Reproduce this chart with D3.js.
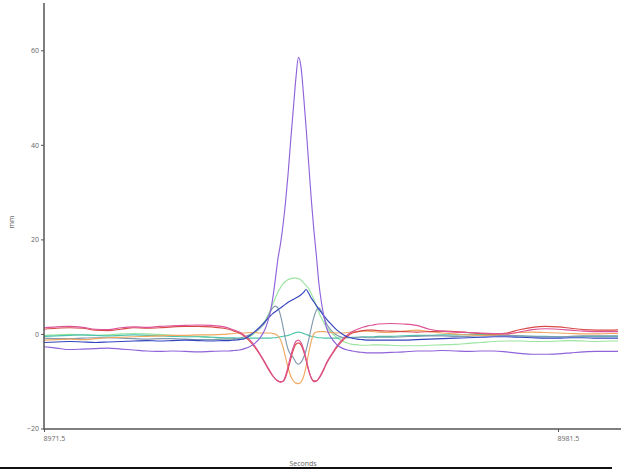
<!DOCTYPE html>
<html>
<head>
<meta charset="utf-8">
<script src="https://cdn.jsdelivr.net/npm/d3@7"></script>
<style>
  html, body { margin: 0; padding: 0; background: #fff; }
  svg { display: block; }
  .tick text { font-family: "Open Sans", "DejaVu Sans", sans-serif; font-size: 7px; fill: #666; }
</style>
</head>
<body>
<svg id="chart" width="621" height="470"></svg>
<script>
// ---- data ----
const time = [
  8971.5, 8971.75, 8972.0, 8972.25, 8972.5, 8972.75, 8973.0, 8973.25, 8973.5, 8973.75, 8974.0, 8974.25, 8974.5, 8974.75, 8975.0,
  8975.1, 8975.2, 8975.3, 8975.4, 8975.5, 8975.6, 8975.7, 8975.8,
  8975.85, 8975.9, 8975.95, 8976.0, 8976.05, 8976.1, 8976.15, 8976.2, 8976.25, 8976.3, 8976.35, 8976.4, 8976.45, 8976.5,
  8976.55, 8976.6, 8976.65, 8976.7, 8976.75, 8976.8, 8976.85, 8976.9, 8976.95, 8977.0,
  8977.1, 8977.2, 8977.3, 8977.4, 8977.5, 8977.6, 8977.7, 8977.8, 8977.9, 8978.0,
  8978.25, 8978.5, 8978.75, 8979.0, 8979.25, 8979.5, 8979.75, 8980.0, 8980.25, 8980.5, 8980.75, 8981.0, 8981.25, 8981.5,
  8981.75, 8982.0, 8982.25, 8982.5, 8982.75
];

const violet = [
  -2.7, -3.0, -3.3, -3.2, -3.1, -3.0, -3.2, -3.4, -3.6, -3.7, -3.6, -3.7, -3.8, -3.7, -3.6,
  -3.6, -3.5, -3.4, -3.1, -2.7, -2.0, -0.9, 1.0,
  2.5, 4.5, 7.5, 11.5, 15.8, 19.0, 23.0, 28.0, 34.0, 41.0, 47.5, 54.0, 58.5, 56.5,
  50.5, 43.5, 36.0, 28.5, 22.0, 16.5, 10.5, 6.5, 3.5, 1.2,
  -1.0, -2.3, -3.0, -3.4, -3.6, -3.8, -3.9, -4.0, -4.0, -4.0,
  -3.9, -3.8, -3.6, -3.6, -3.5, -3.6, -3.7, -3.6, -3.6, -3.8, -4.1, -4.3, -4.3, -4.2,
  -4.0, -3.8, -3.7, -3.7, -3.7
];

const magenta = [
  1.3, 1.5, 1.6, 1.4, 1.0, 0.9, 1.3, 1.5, 1.4, 1.6, 1.7, 1.8, 1.9, 1.8, 1.5,
  1.2, 0.8, 0.4, -0.3, -1.2, -2.5, -4.2, -6.0,
  -7.0, -7.9, -8.8, -9.5, -10.0, -10.2, -10.0, -8.8, -6.8, -4.6, -2.8, -1.6, -1.3, -1.8,
  -3.2, -5.3, -7.6, -9.3, -10.1, -10.0, -9.3, -8.3, -7.2, -6.0,
  -4.2, -2.5, -1.2, -0.2, 0.5, 1.0, 1.4, 1.7, 1.9, 2.1,
  2.2, 2.1, 1.8, 1.0, 0.6, 0.4, 0.3, 0.2, 0.1, 0.0, 0.4, 0.9, 1.1, 1.0,
  0.8, 0.6, 0.5, 0.5, 0.5
];

const red = [
  1.0, 1.2, 1.3, 1.2, 0.8, 0.7, 1.0, 1.3, 1.2, 1.3, 1.5, 1.6, 1.6, 1.5, 1.2,
  1.0, 0.6, 0.2, -0.5, -1.5, -2.8, -4.4, -6.2,
  -7.2, -8.1, -8.9, -9.5, -9.9, -10.1, -10.0, -9.2, -7.4, -5.3, -3.4, -2.2, -1.9, -2.3,
  -3.6, -5.6, -7.8, -9.3, -9.9, -9.9, -9.4, -8.5, -7.4, -6.2,
  -4.4, -2.8, -1.5, -0.5, 0.2, 0.5, 0.7, 0.8, 0.8, 0.7,
  0.6, 0.5, 0.4, 0.5, 0.6, 0.5, 0.3, 0.1, 0.0, 0.2, 0.9, 1.4, 1.6, 1.5,
  1.2, 0.9, 0.8, 0.8, 0.9
];

const orange = [
  -1.3, -1.2, -1.1, -1.2, -1.0, -0.8, -0.7, -0.6, -0.5, -0.4, -0.3, -0.3, -0.2, -0.2, -0.1,
  0.0, 0.1, 0.2, 0.2, 0.3, 0.3, 0.2, 0.2,
  0.2, 0.2, 0.1, 0.0, -0.4, -1.2, -2.8, -5.0, -7.2, -8.9, -9.9, -10.4, -10.5, -10.2,
  -9.0, -6.8, -4.0, -1.5, 0.0, 0.4, 0.5, 0.5, 0.5, 0.4,
  0.3, 0.2, 0.2, 0.3, 0.4, 0.5, 0.6, 0.6, 0.5, 0.4,
  0.3, 0.6, 0.8, 0.5, 0.2, 0.0, -0.2, -0.3, -0.2, 0.0, 0.3, 0.4, 0.3, 0.2,
  0.1, 0.0, 0.0, 0.1, 0.1
];

const lightGreen = [
  -0.3, -0.2, -0.1, -0.2, -0.3, -0.2, 0.0, 0.1, 0.0, -0.1, -0.3, -0.4, -0.5, -0.7, -0.9,
  -1.0, -1.1, -1.1, -1.0, -0.6, 0.2, 1.3, 2.8,
  3.8, 5.0, 6.3, 7.6, 8.8, 9.8, 10.6, 11.1, 11.5, 11.7, 11.8, 11.8, 11.7, 11.4,
  10.8, 10.2, 9.6, 8.5, 7.3, 5.9, 4.5, 3.3, 2.3, 1.4,
  0.2, -0.8, -1.5, -1.9, -2.2, -2.3, -2.4, -2.4, -2.3, -2.3,
  -2.4, -2.5, -2.5, -2.4, -2.3, -2.2, -2.0, -1.8, -1.6, -1.5, -1.5, -1.6, -1.6, -1.5,
  -1.4, -1.5, -1.6, -1.5, -1.5
];

const teal = [
  -0.5, -0.4, -0.3, -0.2, -0.3, -0.4, -0.3, -0.2, -0.3, -0.4, -0.5, -0.6, -0.6, -0.7, -0.8,
  -0.8, -0.8, -0.9, -0.9, -0.9, -0.9, -0.9, -0.9,
  -0.9, -0.9, -0.8, -0.8, -0.7, -0.6, -0.5, -0.4, -0.3, -0.1, 0.1, 0.3, 0.4, 0.3,
  0.1, -0.1, -0.3, -0.5, -0.6, -0.7, -0.8, -0.8, -0.9, -0.9,
  -0.9, -0.9, -0.8, -0.8, -0.7, -0.7, -0.6, -0.6, -0.6, -0.5,
  -0.5, -0.4, -0.3, -0.3, -0.2, -0.2, -0.1, -0.1, -0.2, -0.3, -0.4, -0.5, -0.5, -0.6,
  -0.6, -0.5, -0.5, -0.5, -0.5
];

const slate = [
  -0.9, -1.0, -1.0, -0.9, -0.8, -0.8, -0.9, -1.0, -1.1, -1.0, -1.0, -1.1, -1.2, -1.2, -1.1,
  -1.1, -1.0, -0.9, -0.6, -0.2, 0.4, 1.2, 2.4,
  3.5, 4.6, 5.5, 5.9, 5.5, 4.0, 1.5, -1.2, -3.3, -4.4, -5.0, -6.0, -6.4, -6.0,
  -5.0, -3.4, -1.2, 1.3, 3.5, 5.0, 5.5, 4.7, 3.4, 2.1,
  0.6, -0.3, -0.7, -0.8, -0.8, -0.7, -0.7, -0.8, -0.8, -0.7,
  -0.7, -0.6, -0.5, -0.4, -0.4, -0.5, -0.5, -0.4, -0.3, -0.3, -0.4, -0.5, -0.6, -0.6,
  -0.5, -0.4, -0.4, -0.4, -0.4
];

const blue = [
  -1.8, -1.7, -1.6, -1.7, -1.8, -1.7, -1.6, -1.5, -1.4, -1.5, -1.4, -1.3, -1.4, -1.5, -1.4,
  -1.4, -1.3, -1.2, -1.0, -0.4, 0.5, 1.5, 2.6,
  3.2, 3.8, 4.3, 4.7, 5.1, 5.5, 5.9, 6.3, 6.7, 7.0, 7.3, 7.6, 7.9, 8.3,
  8.8, 9.4, 8.6, 7.6, 6.8, 6.0, 5.2, 4.5, 3.8, 3.1,
  1.9, 0.8, 0.0, -0.6, -0.9, -1.1, -1.2, -1.3, -1.3, -1.3,
  -1.3, -1.3, -1.2, -1.1, -1.0, -0.9, -0.8, -0.7, -0.6, -0.6, -0.7, -0.8, -0.9, -0.9,
  -0.8, -0.8, -0.9, -0.9, -0.9
];

const seriesNames  = ["lightGreen", "teal", "slate", "orange", "red", "magenta", "blue", "violet"];
const seriesValues = [lightGreen, teal, slate, orange, red, magenta, blue, violet];
const seriesColors = ["#9ce4a0", "#4cc3ab", "#8199ae", "#f0a862", "#d84a48", "#de5296", "#3444bf", "#8f63da"];

const yTicks = [-20, 0, 20, 40, 60];
const xTicks = [8971.5, 8981.5];
const xLabel = "Seconds";
const yLabel = "mm";

// ---- chart ----
const svg = d3.select("#chart");
const plotLeft = 44, plotRight = 621, plotTop = 3, plotBottom = 429;

const x = d3.scaleLinear().domain([8971.5, 8981.5]).range([44, 558]);
const y = d3.scaleLinear().domain([-20, 70]).range([428.5, 3]);

svg.append("defs").append("clipPath").attr("id", "clip")
  .append("rect").attr("x", plotLeft).attr("y", 0).attr("width", plotRight - plotLeft - 3).attr("height", plotBottom);

const line = d3.line()
  .x(d => x(d[0]))
  .y(d => y(d[1]))
  .curve(d3.curveMonotoneX);

const plot = svg.append("g").attr("clip-path", "url(#clip)");
seriesValues.forEach((vals, i) => {
  plot.append("path")
    .datum(time.map((t, k) => [t, vals[k]]))
    .attr("fill", "none")
    .attr("stroke", seriesColors[i])
    .attr("stroke-width", 1.15)
    .attr("stroke-linejoin", "round")
    .attr("d", line);
});

// y axis
const yAxis = svg.append("g").attr("transform", `translate(${plotLeft},0)`)
  .call(d3.axisLeft(y).tickValues(yTicks).tickSize(3).tickSizeOuter(0).tickPadding(2));
yAxis.select(".domain").remove();
yAxis.selectAll(".tick line").attr("stroke", "#555");
svg.append("line").attr("x1", plotLeft).attr("x2", plotLeft).attr("y1", plotTop).attr("y2", plotBottom + 0.5)
  .attr("stroke", "#555").attr("stroke-width", 1.5);

// x axis
const xAxis = svg.append("g").attr("transform", `translate(0,${plotBottom})`)
  .call(d3.axisBottom(x).tickValues(xTicks).tickFormat(d => d.toFixed(1)).tickSize(3).tickSizeOuter(0).tickPadding(4));
xAxis.select(".domain").remove();
xAxis.selectAll(".tick line").attr("stroke", "#555");
xAxis.selectAll(".tick text").attr("text-anchor", "start").attr("dx", "-1");
svg.append("line").attr("x1", plotLeft).attr("x2", plotRight).attr("y1", plotBottom).attr("y2", plotBottom)
  .attr("stroke", "#555").attr("stroke-width", 1.5);

// axis titles
svg.append("text")
  .attr("transform", "translate(14,222) rotate(-90)")
  .attr("text-anchor", "middle")
  .attr("font-family", "Open Sans, DejaVu Sans, sans-serif")
  .attr("font-size", 7).attr("fill", "#666")
  .text(yLabel);

svg.append("text")
  .attr("x", 303).attr("y", 466)
  .attr("text-anchor", "middle")
  .attr("font-family", "Open Sans, DejaVu Sans, sans-serif")
  .attr("font-size", 7).attr("fill", "#666")
  .text(xLabel);

// bottom rule
svg.append("line").attr("x1", 0).attr("x2", 612).attr("y1", 468).attr("y2", 468)
  .attr("stroke", "#111").attr("stroke-width", 2);
</script>
</body>
</html>
